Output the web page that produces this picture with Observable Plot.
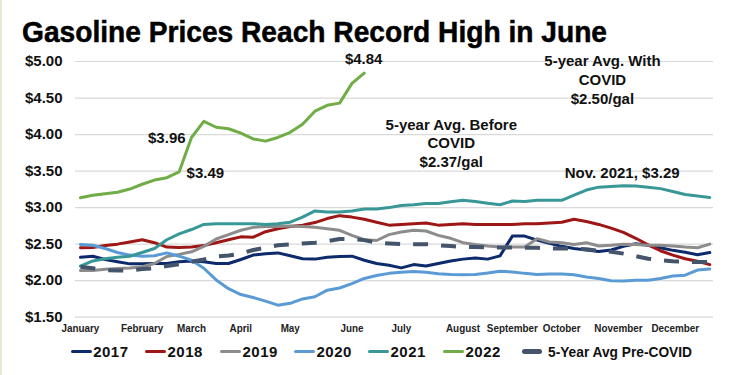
<!DOCTYPE html>
<html>
<head>
<meta charset="utf-8">
<script src="https://cdn.jsdelivr.net/npm/d3@7"></script>
<script src="https://cdn.jsdelivr.net/npm/@observablehq/plot@0.6"></script>
<style>
  body { margin: 0; background: #fff; }
  #wrap { position: relative; width: 747px; height: 375px; overflow: hidden; background: #fff; }
  #strip { position: absolute; left: 0; top: 0; width: 2px; height: 375px; background: #e3ebcf; }
  #title { position: absolute; left: 21.7px; top: 17.8px; font-family: "Liberation Sans", Arial, sans-serif; font-weight: bold; font-size: 29px; line-height: 1; color: #000; white-space: nowrap; transform-origin: left center; -webkit-text-stroke: 0.5px #000; }
  #chart { position: absolute; left: 0; top: 48px; }
  .leg { position: absolute; top: 343px; height: 17px; display: flex; align-items: center; font-family: "Liberation Sans", Arial, sans-serif; font-weight: bold; font-size: 15px; letter-spacing: 0.5px; color: #111; white-space: nowrap; }
  .sw { display: inline-block; width: 21px; height: 3.5px; border-radius: 1.5px; margin-right: 1.5px; }
  .legtx { display: inline-block; transform-origin: left center; }
</style>
</head>
<body>
<div id="wrap">
  <div id="strip"></div>
  <div id="title">Gasoline Prices Reach Record High in June</div>
  <div id="chart"></div>
</div>
<script>
// ---- data ----
const months = ["January","February","March","April","May","June","July","August","September","October","November","December"];
const monthTickWeek = [1, 6, 10, 14, 18, 23, 27, 32, 36, 40, 44.6, 49.2];
const yTicks = [1.5, 2, 2.5, 3, 3.5, 4, 4.5, 5];

const s2017 = [2.32,2.335,2.29,2.26,2.23,2.23,2.235,2.235,2.26,2.27,
               2.26,2.235,2.235,2.29,2.35,2.37,2.38,2.34,2.30,2.295,
               2.32,2.33,2.335,2.28,2.235,2.21,2.175,2.22,2.20,2.235,
               2.27,2.295,2.31,2.295,2.34,2.61,2.61,2.555,2.51,2.47,
               2.44,2.42,2.40,2.42,2.47,2.505,2.485,2.45,2.415,2.39,
               2.355,2.385];
const s2018 = [2.45,2.455,2.48,2.50,2.53,2.56,2.52,2.46,2.455,2.46,
               2.48,2.52,2.56,2.60,2.595,2.67,2.71,2.74,2.76,2.795,
               2.85,2.89,2.87,2.84,2.80,2.76,2.77,2.78,2.79,2.76,
               2.77,2.78,2.77,2.77,2.77,2.77,2.78,2.78,2.79,2.80,
               2.84,2.81,2.77,2.72,2.66,2.58,2.49,2.41,2.35,2.30,
               2.265,2.22];
const s2019 = [2.14,2.14,2.155,2.165,2.175,2.19,2.235,2.33,2.36,2.395,
               2.47,2.57,2.63,2.69,2.73,2.74,2.74,2.75,2.74,2.73,
               2.71,2.69,2.62,2.56,2.55,2.63,2.665,2.69,2.68,2.62,
               2.58,2.52,2.495,2.475,2.46,2.46,2.46,2.575,2.53,2.52,
               2.495,2.52,2.475,2.485,2.50,2.495,2.485,2.485,2.475,2.46,
               2.45,2.50];
const s2020 = [2.495,2.485,2.44,2.385,2.35,2.335,2.34,2.38,2.335,2.28,
               2.17,2.01,1.89,1.81,1.77,1.72,1.665,1.69,1.75,1.78,
               1.87,1.90,1.96,2.03,2.07,2.10,2.115,2.125,2.115,2.095,
               2.085,2.08,2.085,2.105,2.13,2.12,2.10,2.085,2.09,2.09,
               2.08,2.05,2.03,2.00,1.995,2.005,2.005,2.03,2.065,2.075,
               2.145,2.16];
const s2021 = [2.20,2.27,2.30,2.32,2.335,2.385,2.44,2.56,2.64,2.70,
               2.77,2.78,2.78,2.78,2.78,2.77,2.78,2.80,2.87,2.955,
               2.94,2.94,2.955,2.98,2.98,3.00,3.03,3.04,3.055,3.055,
               3.08,3.10,3.085,3.06,3.04,3.09,3.085,3.10,3.10,3.10,
               3.17,3.24,3.28,3.29,3.30,3.295,3.28,3.26,3.22,3.18,
               3.16,3.14];
const s2022 = [3.134,3.168,3.19,3.21,3.254,3.32,3.377,3.41,3.49,3.96,
               4.18,4.10,4.08,4.02,3.94,3.91,3.96,4.03,4.14,4.32,
               4.40,4.43,4.70,4.84];
const s5yr  = [2.19,2.17,2.145,2.14,2.14,2.16,2.17,2.20,2.225,2.26,
               2.29,2.33,2.345,2.37,2.42,2.45,2.485,2.495,2.51,2.52,
               2.54,2.57,2.57,2.555,2.52,2.51,2.50,2.50,2.50,2.485,
               2.475,2.46,2.46,2.455,2.455,2.455,2.45,2.45,2.44,2.44,
               2.44,2.43,2.41,2.395,2.37,2.335,2.30,2.28,2.265,2.26,
               2.255,2.255];

const seriesNames = ["2017","2018","2019","2020","2021","2022","5-Year Avg Pre-COVID"];
const seriesValues = [s2017, s2018, s2019, s2020, s2021, s2022, s5yr];
const seriesColors = ["#0c2a6c","#9e1616","#8c8c8c","#5b9bd5","#3a9798","#70ad47","#44546a"];

const annoText = ["$3.96","$3.49","$4.84","5-year Avg. Before\nCOVID\n$2.37/gal","5-year Avg. With\nCOVID\n$2.50/gal","Nov. 2021, $3.29"];
const annoWeek = [9.52, 9.6, 23.95, 31.05, 43.3, 44.9];
const annoPrice = [3.962, 3.484, 5.046, 3.893, 4.76, 3.493];
const annoAnchor = ["end","start","middle","middle","middle","middle"];

// ---- build ----
const rows = seriesValues.flatMap((vals, k) => vals.map((v, i) => ({series: seriesNames[k], week: i + 1, price: v})));
const annos = annoText.map((t, i) => ({text: t, week: annoWeek[i], price: annoPrice[i], anchor: annoAnchor[i]}));

const numFont = "'Liberation Sans', Arial, sans-serif";
const narrowFont = "'Liberation Sans Narrow', 'Liberation Sans', Arial, sans-serif";

const lineMarks = seriesNames.map((name, k) => Plot.line(rows.filter(d => d.series === name), {
  x: "week", y: "price",
  stroke: seriesColors[k],
  strokeWidth: k === 6 ? 4 : 3,
  strokeDasharray: k === 6 ? "15,13" : null,
  strokeLinejoin: "round",
  strokeLinecap: k === 6 ? "butt" : "round"
}));

const annoMarks = ["end","start","middle"].map(a => Plot.text(annos.filter(d => d.anchor === a), {
  x: "week", y: "price", text: "text", textAnchor: a,
  fontSize: 15, fontWeight: "bold", fontFamily: numFont, fill: "#111", lineHeight: 1.25
}));

const chart = Plot.plot({
  width: 747, height: 290,
  marginLeft: 75, marginRight: 34, marginTop: 13, marginBottom: 21.3,
  style: {background: "transparent", overflow: "visible"},
  x: {domain: [0.6, 52.3], axis: null},
  y: {domain: [1.5, 5], axis: null},
  marks: [
    Plot.ruleY(yTicks, {stroke: "#d9d9d9", strokeWidth: 1.2}),
    Plot.text(yTicks, {y: d => d, text: d => "$" + d.toFixed(2), frameAnchor: "left", textAnchor: "end", dx: -13,
      fontSize: 15, fontWeight: "bold", fontFamily: numFont, fill: "#111"}),
    Plot.text(months, {x: (d, i) => monthTickWeek[i], text: d => d, frameAnchor: "bottom", dy: 15,
      fontSize: 11.5, fontWeight: "bold", fontFamily: narrowFont, fill: "#222", className: "monthlab"}),
    ...lineMarks,
    ...annoMarks
  ]
});
document.getElementById("chart").appendChild(chart);

// condense month labels so that "September" spans ~51px, like the reference
const monthTexts = Array.from(chart.querySelectorAll(".monthlab text"));
if (monthTexts.length) {
  const sep = monthTexts[months.indexOf("September")];
  const k = 51 / sep.getComputedTextLength();
  monthTexts.forEach(t => {
    const len = t.getComputedTextLength();
    t.setAttribute("textLength", (len * k).toFixed(1));
    t.setAttribute("lengthAdjust", "spacingAndGlyphs");
  });
}

// legend
const legLeft = [70.7, 145, 220, 294, 368, 443, 521.6];
const wrap = document.getElementById("wrap");
seriesNames.forEach((name, k) => {
  const item = document.createElement("div");
  item.className = "leg";
  item.style.left = legLeft[k] + "px";
  const sw = document.createElement("span");
  sw.className = "sw";
  sw.style.background = seriesColors[k];
  if (k === 6) { sw.style.width = "20px"; sw.style.height = "5px"; sw.style.borderRadius = "2.5px"; sw.style.marginRight = "6.5px"; }
  const tx = document.createElement("span");
  tx.className = "legtx";
  tx.textContent = name;
  item.appendChild(sw); item.appendChild(tx);
  wrap.appendChild(item);
  if (k === 6) {
    tx.style.letterSpacing = "0px";
    const tw = tx.getBoundingClientRect().width;
    tx.style.transform = `scaleX(${144 / tw})`;
  }
});

// fit title width to reference span
const title = document.getElementById("title");
const w = title.getBoundingClientRect().width;
title.style.transform = `scaleX(${585 / w})`;
</script>
</body>
</html>
